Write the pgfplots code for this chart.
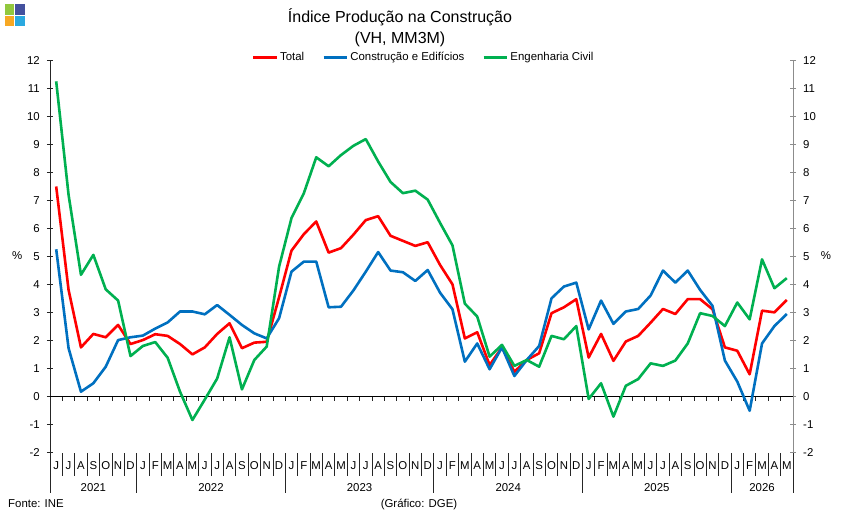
\documentclass[border=0pt]{standalone}
\usepackage{fontspec}
\setmainfont{Liberation Sans}
\usepackage{pgfplots}
\usepackage{pgfplotstable}
\pgfplotsset{compat=1.18}

\definecolor{total}{HTML}{FF0000}
\definecolor{ced}{HTML}{0070C0}
\definecolor{eng}{HTML}{00B050}
\definecolor{logoA}{HTML}{92C83E}
\definecolor{logoB}{HTML}{44519E}
\definecolor{logoC}{HTML}{F7A823}
\definecolor{logoD}{HTML}{2AA9E0}

\newcommand\sm{\fontsize{11.4bp}{13bp}\selectfont}
\newcommand\ttl{\fontsize{16bp}{19bp}\selectfont}

% month index + 0.5, year-on-year change (%), 3-month moving average
\pgfplotstableread{
x    total  ced    eng
0.5  7.50   5.26   11.25
1.5  3.81   1.73   7.20
2.5  1.76   0.18   4.35
3.5  2.24   0.48   5.06
4.5  2.12   1.07   3.83
5.5  2.56   2.02   3.43
6.5  1.88   2.12   1.45
7.5  2.02   2.18   1.81
8.5  2.23   2.43   1.95
9.5  2.17   2.65   1.39
10.5 1.88   3.04   0.18
11.5 1.51   3.04   -0.83
12.5 1.76   2.94   -0.10
13.5 2.24   3.27   0.65
14.5 2.62   2.92   2.12
15.5 1.73   2.56   0.26
16.5 1.93   2.26   1.31
17.5 1.96   2.08   1.79
18.5 3.55   2.80   4.64
19.5 5.21   4.46   6.37
20.5 5.80   4.82   7.26
21.5 6.25   4.82   8.54
22.5 5.14   3.19   8.22
23.5 5.30   3.21   8.62
24.5 5.78   3.79   8.95
25.5 6.30   4.46   9.19
26.5 6.44   5.16   8.39
27.5 5.74   4.50   7.66
28.5 5.56   4.44   7.26
29.5 5.38   4.13   7.35
30.5 5.51   4.52   7.03
31.5 4.70   3.71   6.20
32.5 4.01   3.12   5.40
33.5 2.08   1.25   3.32
34.5 2.30   1.90   2.86
35.5 1.13   0.98   1.43
36.5 1.76   1.76   1.85
37.5 0.89   0.74   1.10
38.5 1.31   1.31   1.31
39.5 1.55   1.81   1.07
40.5 2.98   3.51   2.17
41.5 3.19   3.93   2.05
42.5 3.48   4.07   2.52
43.5 1.40   2.40   -0.08
44.5 2.24   3.43   0.48
45.5 1.28   2.60   -0.71
46.5 1.97   3.04   0.39
47.5 2.17   3.13   0.63
48.5 2.64   3.61   1.19
49.5 3.13   4.50   1.10
50.5 2.95   4.07   1.29
51.5 3.48   4.50   1.90
52.5 3.48   3.81   2.98
53.5 3.12   3.24   2.88
54.5 1.76   1.29   2.52
55.5 1.64   0.54   3.36
56.5 0.80   -0.50  2.76
57.5 3.07   1.90   4.90
58.5 3.01   2.52   3.87
59.5 3.45   2.95   4.23
}\dados

\pgfplotsset{
  frame/.style={
    at={(50bp,65.2bp)}, anchor=south west,
    scale only axis, width=743bp, height=392.5bp,
    xmin=0, xmax=60, ymin=-2, ymax=12,
  },
  scale/.style={
    frame, axis x line=none,
    ytick={-2,...,12}, ytick align=center,
    major tick length=6bp,
    /pgf/number format/assume math mode=true,
  },
}

\begin{document}
\begin{tikzpicture}
\useasboundingbox (0,0) rectangle (843bp,518bp);

% logo
\fill[logoA] (4.5bp,503bp) rectangle (14.3bp,513.5bp);
\fill[logoB] (15.3bp,503bp) rectangle (25bp,513.5bp);
\fill[logoC] (4.5bp,492.3bp) rectangle (14.3bp,502bp);
\fill[logoD] (15.3bp,492.3bp) rectangle (25bp,502bp);

% titles and notes
\node[anchor=base, font=\ttl, inner sep=0pt] at (400bp,495.5bp) {Índice Produção na Construção};
\node[anchor=base, font=\ttl, inner sep=0pt] at (400bp,474.5bp) {(VH, MM3M)};
\node[anchor=base west, font=\sm, inner sep=0pt] at (8bp,11bp) {Fonte: INE};
\node[anchor=base, font=\sm, inner sep=0pt] at (419bp,11bp) {(Gráfico: DGE)};
\node[font=\sm, inner sep=0pt] at (17.3bp,262.3bp) {\%};
\node[font=\sm, inner sep=0pt] at (826bp,262.3bp) {\%};

% left-hand scale
\begin{axis}[scale, axis y line*=left,
  y axis line style={color=black!85, line width=0.8bp},
  tick style={color=black!85, line width=0.8bp},
  yticklabel style={font=\sm, anchor=east, inner sep=0pt, xshift=-7bp},
]
\end{axis}

% right-hand scale
\begin{axis}[scale, axis y line*=right,
  y axis line style={color=gray!90, line width=0.8bp},
  tick style={color=gray!90, line width=0.8bp},
  yticklabel style={font=\sm, anchor=west, inner sep=0pt, xshift=7bp},
]
\end{axis}

% series and month axis
\begin{axis}[frame,
  axis y line=none, axis x line*=bottom,
  x axis line style={draw=none},
  xtick={0,7,19,31,43,55,60}, xticklabels={,,,,,,},
  xtick align=outside,
  xtick style={color=black!85, line width=0.8bp},
  major tick length=40bp,
  minor xtick={1,...,59}, minor tick length=23bp,
  extra x ticks={0.5,1.5,...,59.5},
  extra x tick labels={J,J,A,S,O,N,D,
    J,F,M,A,M,J,J,A,S,O,N,D,
    J,F,M,A,M,J,J,A,S,O,N,D,
    J,F,M,A,M,J,J,A,S,O,N,D,
    J,F,M,A,M,J,J,A,S,O,N,D,
    J,F,M,A,M},
  extra x tick style={major tick length=0pt,
    xticklabel style={font=\sm, anchor=center, inner sep=0pt, yshift=-13.2bp}},
  clip=false,
  legend columns=3,
  legend style={at={(0.5,1)}, anchor=center, xshift=2.3bp, yshift=2.8bp,
    draw=none, fill=none, font=\sm,
    /tikz/every even column/.append style={column sep=16bp}},
  legend image code/.code={\draw[#1, line width=2.6bp] (0bp,0bp) -- (23.5bp,0bp);},
]
% zero line with month marks
\draw[black, line width=0.9bp] (axis cs:0,0) -- (axis cs:60,0);
\pgfplotsinvokeforeach{1,...,59}{
  \draw[black!85, line width=0.8bp] (axis cs:#1,0) -- ([yshift=-4bp]axis cs:#1,0);
}
\addplot[total, line width=2.6bp, line join=round] table[x=x, y=total] {\dados};
\addlegendentry{Total}
\addplot[ced, line width=2.6bp, line join=round] table[x=x, y=ced] {\dados};
\addlegendentry{Construção e Edifícios}
\addplot[eng, line width=2.6bp, line join=round] table[x=x, y=eng] {\dados};
\addlegendentry{Engenharia Civil}

% years
\node[font=\sm] at (axis cs:3.5,-2)  [yshift=-35.2bp] {2021};
\node[font=\sm] at (axis cs:13,-2)   [yshift=-35.2bp] {2022};
\node[font=\sm] at (axis cs:25,-2)   [yshift=-35.2bp] {2023};
\node[font=\sm] at (axis cs:37,-2)   [yshift=-35.2bp] {2024};
\node[font=\sm] at (axis cs:49,-2)   [yshift=-35.2bp] {2025};
\node[font=\sm] at (axis cs:57.5,-2) [yshift=-35.2bp] {2026};
\end{axis}
\end{tikzpicture}
\end{document}
